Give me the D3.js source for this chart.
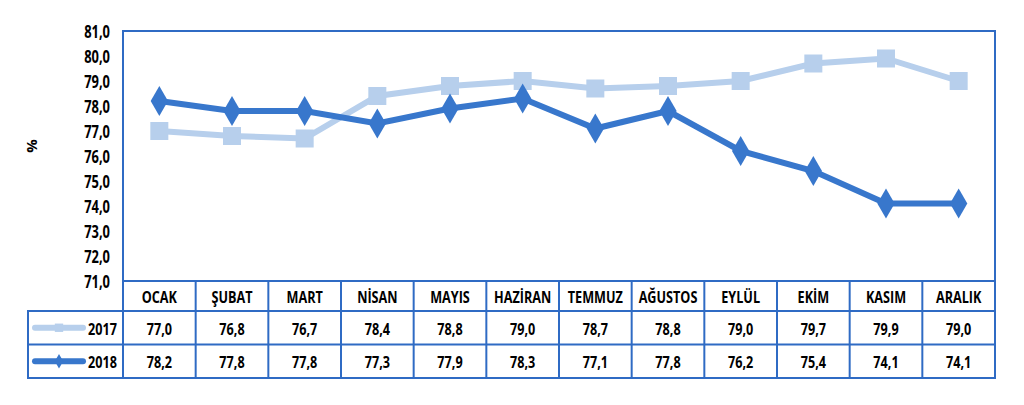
<!DOCTYPE html>
<html><head><meta charset="utf-8">
<script src="https://cdn.jsdelivr.net/npm/d3@7"></script>
<style>body{margin:0;background:#fff}svg{display:block}</style>
</head><body><svg id="c" width="1024" height="405"></svg>
<script>
const months = ["OCAK","ŞUBAT","MART","NİSAN","MAYIS","HAZİRAN","TEMMUZ","AĞUSTOS","EYLÜL","EKİM","KASIM","ARALIK"];
const values2017 = [77.0,76.8,76.7,78.4,78.8,79.0,78.7,78.8,79.0,79.7,79.9,79.0];
const values2018 = [78.2,77.8,77.8,77.3,77.9,78.3,77.1,77.8,76.2,75.4,74.1,74.1];
const seriesNames = ["2017","2018"];
const yTicks = [71,72,73,74,75,76,77,78,79,80,81];

const svg = d3.select("#c");
const L = 123, R = 995, T = 31, B = 281;
const rowH = [30, 33.5, 33.5];
const legL = 28;
const border = "#2F6BC4";
const c17 = "#B7CFEC", c18 = "#3877CC";
const font = "'Open Sans', sans-serif";
const SX = 0.79;
const fmt = v => v.toFixed(1).replace(".", ",");

const x = d3.scaleBand().domain(months).range([L, R]);
const y = d3.scaleLinear().domain([71, 81]).range([B, T]);

// condensed bold text helper
const txt = (g, xx, yy, t, anchor = "middle", size = 16) => g.append("text")
  .attr("transform", `translate(${xx},${yy}) scale(${SX},1)`)
  .attr("text-anchor", anchor).attr("dominant-baseline", "central")
  .attr("font-family", font).attr("font-weight", "bold").attr("font-size", size).attr("fill", "#000").text(t);

// y axis labels (positions from the scale)
const yAxis = d3.axisLeft(y).tickValues(yTicks).tickFormat(fmt).tickSize(0).tickPadding(14);
const ya = svg.append("g").attr("transform", `translate(${L},0)`).call(yAxis);
ya.select(".domain").remove();
ya.selectAll(".tick text").each(function () {
  d3.select(this).attr("x", null).attr("dy", null)
    .attr("transform", `translate(-13,0) scale(0.76,1)`)
    .attr("dominant-baseline", "central")
    .attr("font-family", font).attr("font-weight", "bold").attr("font-size", 17).attr("fill", "#000");
});

svg.append("text").attr("transform", "translate(31,146) rotate(-90)").attr("text-anchor", "middle")
  .attr("dominant-baseline", "central")
  .attr("font-family", font).attr("font-weight", "bold").attr("font-size", 15).text("%");

// plot frame
svg.append("rect").attr("x", L).attr("y", T).attr("width", R - L).attr("height", B - T)
  .attr("fill", "none").attr("stroke", border).attr("stroke-width", 2);

// table
const y0 = B, y1 = B + rowH[0], y2 = y1 + rowH[1], y3 = y2 + rowH[2];
const tg = svg.append("g");
tg.append("rect").attr("x", L).attr("y", y0).attr("width", R - L).attr("height", y3 - y0)
  .attr("fill", "none").attr("stroke", border).attr("stroke-width", 2);
tg.append("rect").attr("x", legL).attr("y", y1).attr("width", R - legL).attr("height", y3 - y1)
  .attr("fill", "none").attr("stroke", border).attr("stroke-width", 2);
tg.append("line").attr("x1", legL).attr("x2", R).attr("y1", y2).attr("y2", y2).attr("stroke", border).attr("stroke-width", 2);
tg.selectAll("line.col").data(months.slice(1)).join("line").attr("class", "col")
  .attr("x1", d => x(d)).attr("x2", d => x(d)).attr("y1", y0).attr("y2", y3)
  .attr("stroke", border).attr("stroke-width", 2);

months.forEach(m => txt(tg, x(m) + x.bandwidth() / 2, (y0 + y1) / 2 + 1, m));
values2017.forEach((v, i) => txt(tg, x(months[i]) + x.bandwidth() / 2, (y1 + y2) / 2 + 1, fmt(v)));
values2018.forEach((v, i) => txt(tg, x(months[i]) + x.bandwidth() / 2, (y2 + y3) / 2 + 1, fmt(v)));

// legend keys
const lk = [[c17, d3.symbolSquare, (y1 + y2) / 2, 70], [c18, d3.symbolDiamond, (y2 + y3) / 2, 60]];
lk.forEach(([col, sym, yy, sz], i) => {
  tg.append("line").attr("x1", 35).attr("x2", 83).attr("y1", yy).attr("y2", yy)
    .attr("stroke", col).attr("stroke-width", 6).attr("stroke-linecap", "round");
  tg.append("path").attr("d", d3.symbol(sym, sz)()).attr("transform", `translate(59,${yy})`).attr("fill", col);
  txt(tg, 117, yy + 1, seriesNames[i], "end");
});

// lines
const cx = i => x(months[i]) + x.bandwidth() / 2;
const line = d3.line().x((d, i) => cx(i)).y(d => y(d));
svg.append("path").datum(values2017).attr("d", line).attr("fill", "none").attr("stroke", c17).attr("stroke-width", 6);
svg.selectAll("rect.m17").data(values2017).join("rect").attr("class", "m17")
  .attr("x", (d, i) => cx(i) - 9).attr("y", d => y(d) - 9).attr("width", 18).attr("height", 18).attr("fill", c17);
svg.append("path").datum(values2018).attr("d", line).attr("fill", "none").attr("stroke", c18).attr("stroke-width", 6);
svg.selectAll("path.m18").data(values2018).join("path").attr("class", "m18")
  .attr("d", d3.symbol(d3.symbolDiamond, 260)())
  .attr("transform", (d, i) => `translate(${cx(i)},${y(d)})`).attr("fill", c18);
</script></body></html>
